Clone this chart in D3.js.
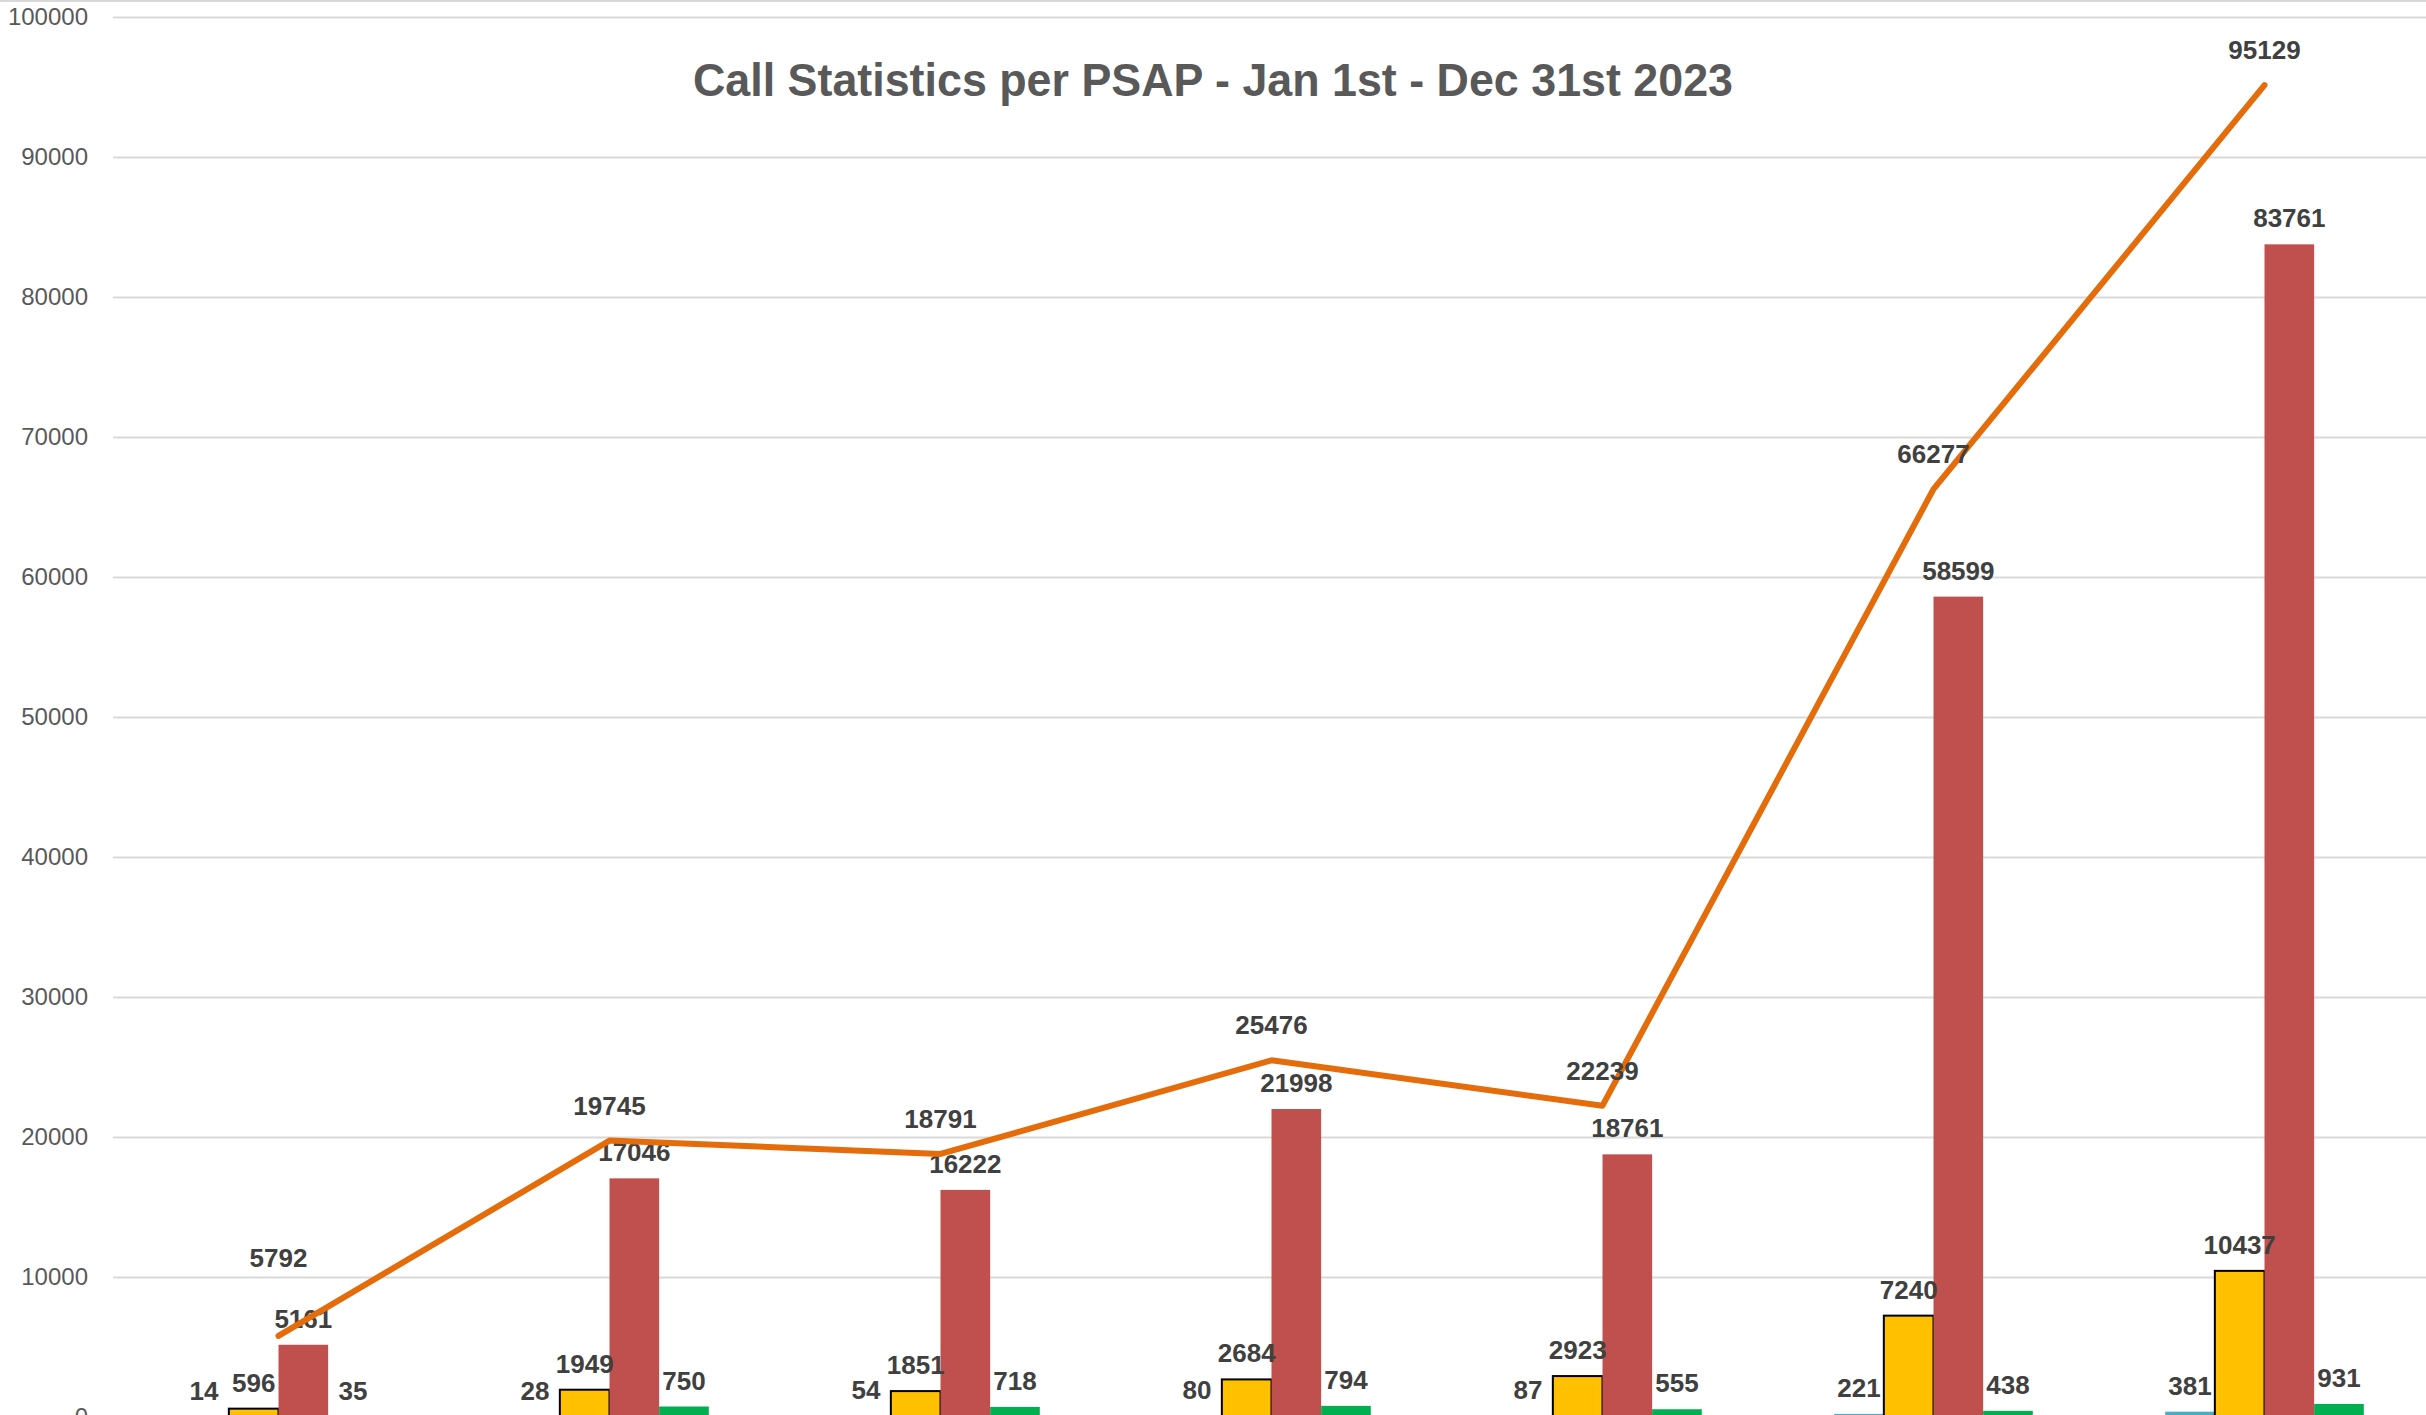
<!DOCTYPE html>
<html lang="en">
<head>
    <meta charset="UTF-8">
    <title>Call Statistics per PSAP</title>
    <script src="https://d3js.org/d3.v7.min.js"></script>
    <style>
        html, body { margin: 0; padding: 0; background: #fff; }
        svg { display: block; }
    </style>
</head>
<body>
<svg id="chart" width="2426" height="1415"></svg>
<script>
    // values
    var psaps = ["PSAP 1", "PSAP 2", "PSAP 3", "PSAP 4", "PSAP 5", "PSAP 6", "PSAP 7"];
    var seriesNames = ["blue", "yellow", "red", "green"];
    var blueValues = [14, 28, 54, 80, 87, 221, 381];
    var yellowValues = [596, 1949, 1851, 2684, 2923, 7240, 10437];
    var redValues = [5161, 17046, 16222, 21998, 18761, 58599, 83761];
    var greenValues = [35, 750, 718, 794, 555, 438, 931];
    var totalValues = [5792, 19745, 18791, 25476, 22239, 66277, 95129];
    var yTicks = [0, 10000, 20000, 30000, 40000, 50000, 60000, 70000, 80000, 90000, 100000];

    var colors = { blue: "#4BACC6", yellow: "#FFC000", red: "#C0504D", green: "#00B050" };
    var valuesBySeries = { blue: blueValues, yellow: yellowValues, red: redValues, green: greenValues };

    var svg = d3.select("#chart"),
        width = +svg.attr("width"),
        height = +svg.attr("height");

    var x = d3.scaleBand()
        .domain(psaps)
        .range([113, 2430])
        .paddingInner(0.4)
        .paddingOuter(0.2);

    var xs = d3.scaleBand()
        .domain(seriesNames)
        .range([0, x.bandwidth()]);

    var y = d3.scaleLinear()
        .domain([0, 100000])
        .range([1417, 17]);

    // top border of chart area
    svg.append("line")
        .attr("x1", 0).attr("x2", width)
        .attr("y1", 1).attr("y2", 1)
        .attr("stroke", "#D9D9D9")
        .attr("stroke-width", 2);

    // gridlines + y axis
    var yAxis = svg.append("g")
        .attr("transform", "translate(113,0)")
        .call(d3.axisLeft(y).tickValues(yTicks).tickSize(-(width - 113)).tickPadding(25).tickFormat(d3.format("d")));
    yAxis.select(".domain").remove();
    yAxis.selectAll(".tick line").attr("stroke", "#D9D9D9").attr("stroke-width", 2);
    yAxis.selectAll(".tick text")
        .attr("fill", "#595959")
        .attr("font-family", "'Liberation Sans', Arial, sans-serif")
        .attr("font-size", 24);

    // title
    svg.append("text")
        .attr("x", 1213)
        .attr("y", 96)
        .attr("text-anchor", "middle")
        .attr("fill", "#595959")
        .attr("font-family", "'Liberation Sans', Arial, sans-serif")
        .attr("font-weight", "bold")
        .attr("font-size", 46)
        .attr("textLength", 1040)
        .attr("lengthAdjust", "spacingAndGlyphs")
        .text("Call Statistics per PSAP - Jan 1st - Dec 31st 2023");

    // bars
    var groups = svg.append("g").selectAll("g")
        .data(psaps)
        .join("g")
        .attr("transform", function(d) { return "translate(" + x(d) + ",0)"; });

    groups.selectAll("rect")
        .data(function(d, i) {
            return seriesNames.map(function(s) { return { key: s, value: valuesBySeries[s][i] }; });
        })
        .join("rect")
        .attr("x", function(d) { return xs(d.key); })
        .attr("y", function(d) { return y(d.value); })
        .attr("width", xs.bandwidth())
        .attr("height", function(d) { return y(0) - y(d.value); })
        .attr("fill", function(d) { return colors[d.key]; })
        .attr("stroke", function(d) { return d.key === "yellow" ? "#000" : "none"; })
        .attr("stroke-width", 2);

    // total line
    var line = d3.line()
        .x(function(d, i) { return x(psaps[i]) + x.bandwidth() / 2; })
        .y(function(d) { return y(d); });

    svg.append("path")
        .datum(totalValues)
        .attr("fill", "none")
        .attr("stroke", "#E46C0A")
        .attr("stroke-width", 6)
        .attr("stroke-linecap", "round")
        .attr("stroke-linejoin", "round")
        .attr("d", line);

    // data labels
    var labelFont = "'Liberation Sans', Arial, sans-serif";
    groups.selectAll("text")
        .data(function(d, i) {
            return seriesNames.map(function(s) { return { key: s, value: valuesBySeries[s][i] }; });
        })
        .join("text")
        .attr("x", function(d) { return xs(d.key) + xs.bandwidth() / 2; })
        .attr("y", function(d) { return y(d.value) - 17; })
        .attr("text-anchor", "middle")
        .attr("fill", "#404040")
        .attr("font-family", labelFont)
        .attr("font-weight", "bold")
        .attr("font-size", 26)
        .text(function(d) { return d.value; });

    svg.append("g").selectAll("text")
        .data(totalValues)
        .join("text")
        .attr("x", function(d, i) { return x(psaps[i]) + x.bandwidth() / 2; })
        .attr("y", function(d, i) {
            var ly = y(d) - 26;
            // push up when it would sit on top of the red bar's label
            var redLabel = y(redValues[i]) - 17;
            if (Math.abs(ly - redLabel) < 40) ly = redLabel - 61;
            return ly;
        })
        .attr("text-anchor", "middle")
        .attr("fill", "#404040")
        .attr("font-family", labelFont)
        .attr("font-weight", "bold")
        .attr("font-size", 26)
        .text(function(d) { return d; });
</script>
</body>
</html>
